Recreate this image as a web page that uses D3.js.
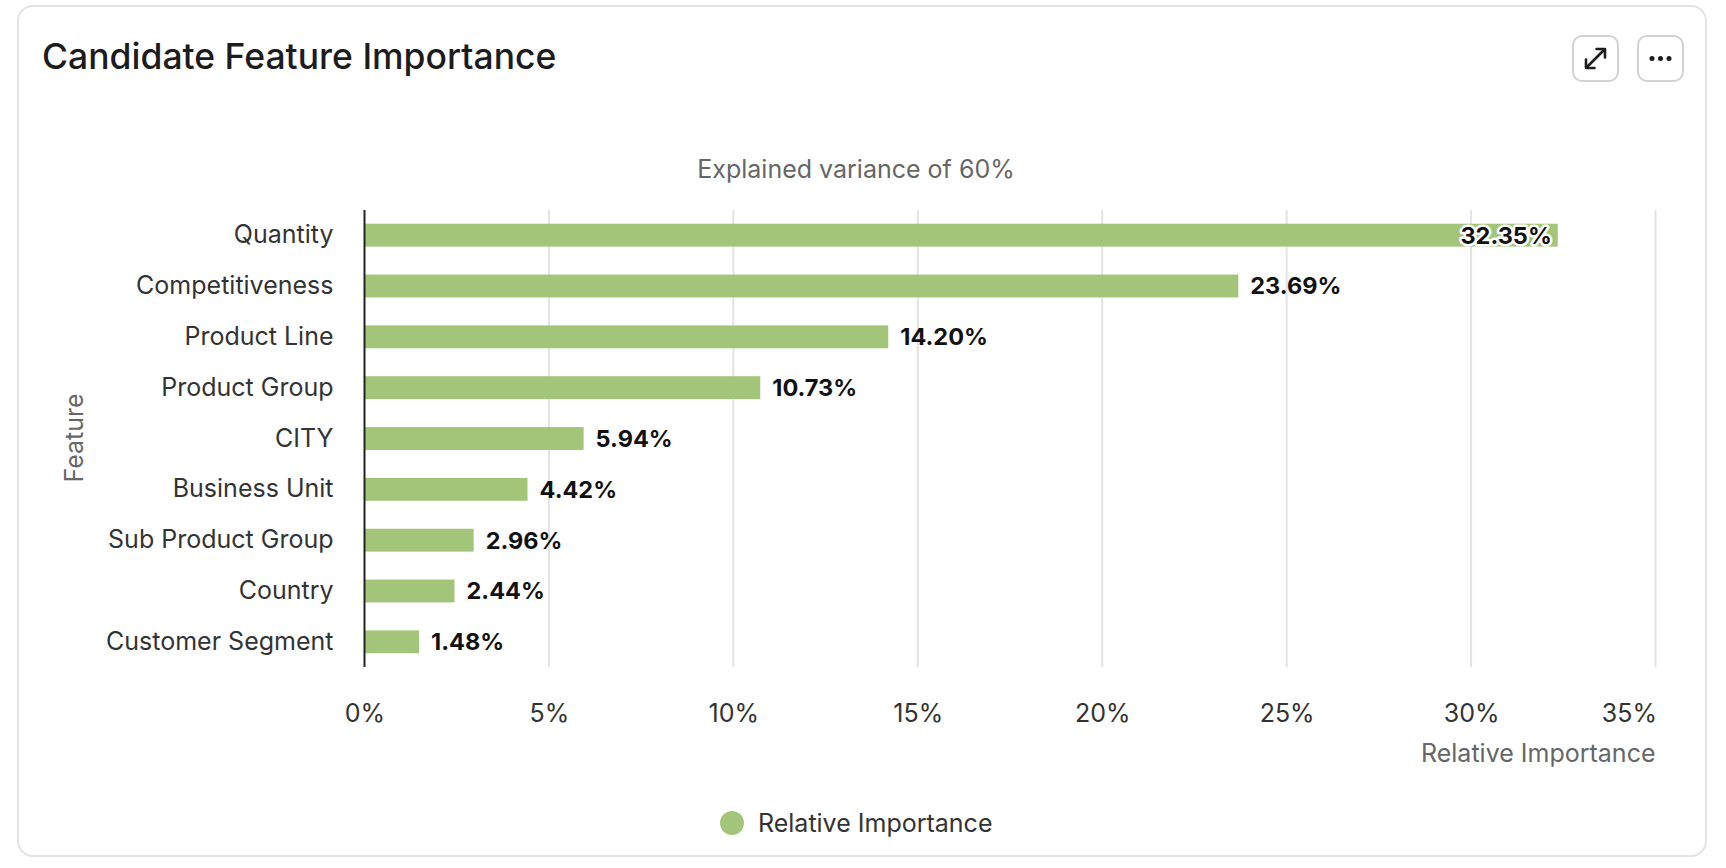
<!DOCTYPE html>
<html>
<head>
<meta charset="utf-8">
<title>Candidate Feature Importance</title>
<script src="https://d3js.org/d3.v7.min.js"></script>
<style>
  body { margin: 0; background: #ffffff; font-family: Inter, 'Open Sans', sans-serif; }
  #card {
    position: absolute; left: 17px; top: 5px; width: 1690px; height: 852px;
    border: 2px solid #e2e2e4; border-radius: 16px; box-sizing: border-box; background: #fff;
  }
  svg { position: absolute; left: 0; top: 0; }
</style>
</head>
<body>
<div id="card"></div>
<svg id="chart" width="1726" height="868"></svg>
<script>
const features = ["Quantity", "Competitiveness", "Product Line", "Product Group", "CITY",
  "Business Unit", "Sub Product Group", "Country", "Customer Segment"];
const importance = [32.35, 23.69, 14.20, 10.73, 5.94, 4.42, 2.96, 2.44, 1.48];
const xTicks = [0, 5, 10, 15, 20, 25, 30, 35];

const title = "Candidate Feature Importance";
const subtitle = "Explained variance of 60%";
const seriesName = "Relative Importance";
const barColor = "#a3c57a";

const svg = d3.select("#chart");
const plot = { left: 364.5, right: 1655.5, top: 210, bottom: 667 };

const x = d3.scaleLinear().domain([0, 35]).range([plot.left, plot.right]);
const y = d3.scaleBand().domain(features).range([plot.top, plot.bottom]).paddingInner(0.55).paddingOuter(0.27);

// header
svg.append("text")
  .attr("x", 42).attr("y", 69)
  .attr("font-size", 35.5).attr("font-weight", 500).attr("fill", "#1c1c1e")
  .text(title);

// buttons
const btns = svg.append("g");
[[1572, "expand"], [1637, "more"]].forEach(([bx, kind]) => {
  const g = btns.append("g").attr("transform", `translate(${bx},35)`);
  g.append("rect").attr("x", 1).attr("y", 1).attr("width", 45).attr("height", 45).attr("rx", 9)
    .attr("fill", "#fff").attr("stroke", "#d2d2d4").attr("stroke-width", 2);
  if (kind === "expand") {
    const st = p => g.append("path").attr("d", p).attr("fill", "none").attr("stroke", "#1c1c1e")
      .attr("stroke-width", 2.6).attr("stroke-linecap", "round").attr("stroke-linejoin", "round");
    st("M14.5 32.5 L32.5 14.5");
    st("M24.5 14 H33 V22.5");
    st("M14 24.5 V33 H22.5");
  } else {
    [15, 23.5, 32].forEach(cx => g.append("circle").attr("cx", cx).attr("cy", 23.5).attr("r", 2.5).attr("fill", "#1c1c1e"));
  }
});

// subtitle
svg.append("text")
  .attr("x", 856).attr("y", 178)
  .attr("text-anchor", "middle").attr("font-size", 25).attr("fill", "#666")
  .text(subtitle);

// grid
svg.append("g").selectAll("line")
  .data(xTicks.slice(1))
  .join("line")
  .attr("x1", d => x(d)).attr("x2", d => x(d))
  .attr("y1", plot.top).attr("y2", plot.bottom)
  .attr("stroke", "#e3e3e5").attr("stroke-width", 2);

// x axis labels
const xAxis = svg.append("g")
  .attr("transform", `translate(0,${plot.bottom})`)
  .call(d3.axisBottom(x).tickValues(xTicks).tickFormat(d => d + "%").tickSize(0).tickPadding(37));
xAxis.select(".domain").remove();
xAxis.selectAll("text")
  .attr("font-family", "Inter, sans-serif").attr("font-size", 25).attr("fill", "#333")
  .attr("text-anchor", (d, i) => i === xTicks.length - 1 ? "end" : "middle")
  .attr("dx", (d, i) => i === xTicks.length - 1 ? "1" : "0");

svg.append("text")
  .attr("x", plot.right).attr("y", 762)
  .attr("text-anchor", "end").attr("font-size", 25).attr("fill", "#666")
  .text(seriesName);

// y axis
const yAxis = svg.append("g")
  .attr("transform", `translate(${plot.left},0)`)
  .call(d3.axisLeft(y).tickSize(0).tickPadding(31));
yAxis.select(".domain").remove();
yAxis.selectAll("text")
  .attr("font-family", "Inter, sans-serif").attr("font-size", 25).attr("fill", "#333");

svg.append("text")
  .attr("transform", "translate(83,438) rotate(-90)")
  .attr("text-anchor", "middle").attr("font-size", 25).attr("fill", "#666")
  .text("Feature");

// bars
svg.append("g").selectAll("rect")
  .data(importance)
  .join("rect")
  .attr("x", x(0)).attr("y", (d, i) => y(features[i]))
  .attr("width", d => x(d) - x(0)).attr("height", y.bandwidth())
  .attr("fill", barColor);

svg.append("line")
  .attr("x1", plot.left).attr("x2", plot.left)
  .attr("y1", plot.top).attr("y2", plot.bottom)
  .attr("stroke", "#222").attr("stroke-width", 2);

// value labels
const labels = svg.append("g").selectAll("text")
  .data(importance)
  .join("text")
  .attr("y", (d, i) => y(features[i]) + y.bandwidth() / 2)
  .attr("dy", "0.36em")
  .attr("font-size", 23.5).attr("font-weight", 700).attr("fill", "#111")
  .text(d => d.toFixed(2) + "%");
labels.each(function(d) {
  const inside = x(d) + 110 > x(35);
  d3.select(this)
    .attr("x", inside ? x(d) - 6 : x(d) + 12)
    .attr("text-anchor", inside ? "end" : "start")
    .attr("stroke", inside ? "#fff" : "none")
    .attr("stroke-width", inside ? 5 : 0)
    .attr("paint-order", "stroke")
    .attr("stroke-linejoin", "round");
});

// legend
svg.append("circle").attr("cx", 732).attr("cy", 823).attr("r", 12).attr("fill", barColor);
svg.append("text")
  .attr("x", 758).attr("y", 832)
  .attr("font-size", 25).attr("fill", "#333")
  .text(seriesName);
</script>
</body>
</html>
